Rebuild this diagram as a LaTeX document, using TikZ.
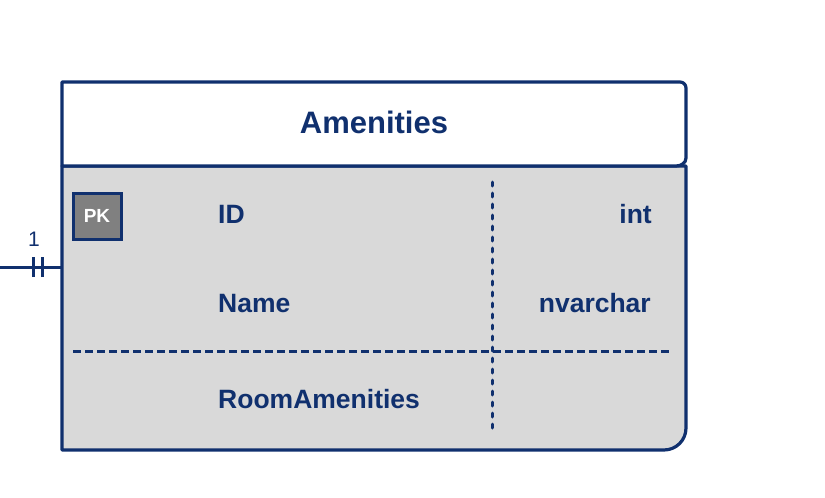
\documentclass[tikz,border=0pt]{standalone}
\usepackage{fontspec}
\setmainfont{Liberation Sans}
\definecolor{navy}{RGB}{16,48,110}
\definecolor{bodygray}{RGB}{217,217,217}
\definecolor{pkgray}{RGB}{128,128,128}
\begin{document}
\begin{tikzpicture}[x=1pt,y=-1pt,
  edge/.style={draw=navy,line width=3.2pt,line join=round},
  field/.style={text=navy,font=\bfseries\fontsize{26.5}{31}\selectfont,inner sep=0pt},
  dashline/.style={draw=navy,line width=3pt,dash pattern=on 8pt off 4pt},
  dotline/.style={draw=navy,line width=3pt,line cap=round,dash pattern=on 4pt off 7pt}]
\useasboundingbox (0,0) rectangle (825,498);
% body
\path[edge,fill=bodygray] (62,166) -- (686,166) -- (686,428) to[out=-90,in=0] (664,450) -- (62,450) -- cycle;
% header
\path[edge,fill=white] (62,82) -- (680,82) to[out=0,in=90] (686,88) -- (686,158) to[out=-90,in=0] (676,166) -- (62,166) -- cycle;
\node[text=navy,font=\bfseries\fontsize{31}{37}\selectfont,inner sep=0pt,anchor=base] (title) at (374,133) {Amenities};
% separators
\draw[dashline] (73,351) -- (672,351);
\draw[dotline] (492,182) -- (492,434);
% PK
\node[draw=navy,line width=3pt,fill=pkgray,minimum width=48pt,minimum height=46pt,inner sep=0pt,text=white,font=\bfseries\fontsize{19}{22}\selectfont] (pk) at (97,216) {PK};
% fields
\node[field,anchor=base west] (id) at (218,223) {ID};
\node[field,anchor=base east] (int) at (652,223) {int};
\node[field,anchor=base west] (name) at (218,312) {Name};
\node[field,anchor=base east] (nvarchar) at (651,312) {nvarchar};
\node[field,anchor=base west] (ra) at (218,408) {RoomAmenities};
% connector
\coordinate (free) at (0,267);
\coordinate (tab) at (62,267);
\draw[navy,line width=3pt] (free) -- (tab);
\coordinate (t1) at (33,267);
\coordinate (t2) at (42,267);
\draw[navy,line width=3pt] ([yshift=-10pt]t1) -- ([yshift=10pt]t1);
\draw[navy,line width=3pt] ([yshift=-10pt]t2) -- ([yshift=10pt]t2);
\node[text=navy,font=\fontsize{21}{25}\selectfont,inner sep=0pt] (one) at (34,239) {1};
\end{tikzpicture}
\end{document}
